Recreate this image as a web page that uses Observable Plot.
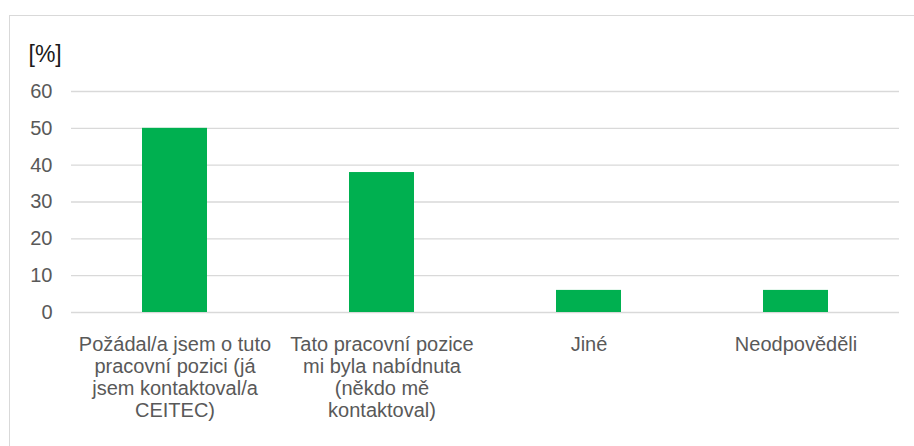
<!DOCTYPE html>
<html>
<head>
<meta charset="utf-8">
<script src="https://cdn.jsdelivr.net/npm/d3@7"></script>
<script src="https://cdn.jsdelivr.net/npm/@observablehq/plot@0.6"></script>
<style>
  html, body { margin: 0; padding: 0; background: #fff; }
  body { width: 914px; height: 446px; overflow: hidden; position: relative; font-family: "Liberation Sans", Arial, sans-serif; }
  #frame { position: absolute; left: 9px; top: 15px; width: 1000px; height: 1000px; border: 1.5px solid #d9d9d9; box-sizing: border-box; }
  #chart { position: absolute; left: 0; top: 0; }
</style>
</head>
<body>
<div id="frame"></div>
<div id="chart"></div>
<script>
const categories = [
  "Požádal/a jsem o tuto\npracovní pozici (já\njsem kontaktoval/a\nCEITEC)",
  "Tato pracovní pozice\nmi byla nabídnuta\n(někdo mě\nkontaktoval)",
  "Jiné",
  "Neodpověděli"
];
const values = [50, 38, 6, 6];
const yTicks = [0, 10, 20, 30, 40, 50, 60];
const unitLabel = "[%]";

const data = categories.map((c, i) => ({category: c, value: values[i]}));

const chart = Plot.plot({
  width: 914,
  height: 446,
  marginLeft: 71,
  marginRight: 15,
  marginTop: 91,
  marginBottom: 134,
  style: {fontFamily: "'Liberation Sans', Arial, sans-serif", background: "transparent"},
  x: {domain: categories, paddingInner: 0.686, paddingOuter: 0.343, label: null},
  y: {domain: [0, 60], ticks: yTicks, label: null},
  marks: [
    Plot.gridY(yTicks, {stroke: "#d9d9d9", strokeOpacity: 1, strokeWidth: 1.3}),
    Plot.barY(data, {x: "category", y: "value", fill: "#00B050"}),
    Plot.axisY({ticks: yTicks, tickSize: 0, tickPadding: 19, fontSize: 20, fill: "#595959", label: null}),
    Plot.axisX({tickSize: 0, tickPadding: 23, fontSize: 20, lineHeight: 1.1, fill: "#595959", label: null}),
    Plot.text([unitLabel], {frameAnchor: "top-left", dx: -43, dy: -36.5, text: d => d, fontSize: 23, textAnchor: "start", lineAnchor: "middle", fill: "#1a1a1a"})
  ]
});
document.getElementById("chart").appendChild(chart);
</script>
</body>
</html>
